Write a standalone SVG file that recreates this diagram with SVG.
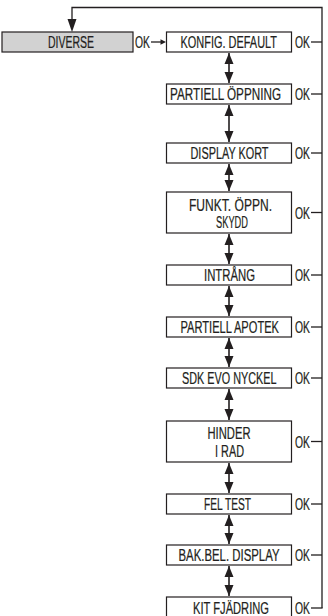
<svg xmlns="http://www.w3.org/2000/svg" width="328" height="616" viewBox="0 0 328 616">
<style>
.box{fill:#fff;stroke:#231f20;stroke-width:1.2}
.gray{fill:#d2d2d2;stroke:#231f20;stroke-width:1.2}
.t{font-family:"Liberation Sans",Arial,sans-serif;font-size:11px;fill:#231f20;stroke:#231f20;stroke-width:0.15}
.ln{stroke:#231f20;stroke-width:1.3;fill:none}
.sh{stroke:#231f20;stroke-width:1.6;fill:none}
.ah{fill:#231f20}
</style>
<g id="connectors">
<polyline class="ln" points="322,608 322,7.5 72,7.5 72,20"/>
<path class="ah" d="M72 32 L67.5 19 L76.5 19 Z"/>
<line class="ln" x1="151" y1="42" x2="162" y2="42"/>
<path class="ah" d="M166 42 L160.5 39.3 L160.5 44.7 Z"/>
<line class="ln" x1="311" y1="42" x2="322" y2="42"/>
<line class="ln" x1="311" y1="94" x2="322" y2="94"/>
<line class="ln" x1="311" y1="153" x2="322" y2="153"/>
<line class="ln" x1="311" y1="212.5" x2="322" y2="212.5"/>
<line class="ln" x1="311" y1="275" x2="322" y2="275"/>
<line class="ln" x1="311" y1="327" x2="322" y2="327"/>
<line class="ln" x1="311" y1="378" x2="322" y2="378"/>
<line class="ln" x1="311" y1="441.5" x2="322" y2="441.5"/>
<line class="ln" x1="311" y1="504" x2="322" y2="504"/>
<line class="ln" x1="311" y1="555" x2="322" y2="555"/>
<line class="ln" x1="311" y1="608" x2="322.6" y2="608"/>
<line class="sh" x1="229" y1="53" x2="229" y2="83"/>
<path class="ah" d="M229 53 L224.5 64 L233.5 64 Z"/><path class="ah" d="M229 83 L224.5 72 L233.5 72 Z"/>
<line class="sh" x1="229" y1="105" x2="229" y2="142"/>
<path class="ah" d="M229 105 L224.5 116 L233.5 116 Z"/><path class="ah" d="M229 142 L224.5 131 L233.5 131 Z"/>
<line class="sh" x1="229" y1="164" x2="229" y2="191"/>
<path class="ah" d="M229 164 L224.5 175 L233.5 175 Z"/><path class="ah" d="M229 191 L224.5 180 L233.5 180 Z"/>
<line class="sh" x1="229" y1="234" x2="229" y2="264"/>
<path class="ah" d="M229 234 L224.5 245 L233.5 245 Z"/><path class="ah" d="M229 264 L224.5 253 L233.5 253 Z"/>
<line class="sh" x1="229" y1="286" x2="229" y2="316"/>
<path class="ah" d="M229 286 L224.5 297 L233.5 297 Z"/><path class="ah" d="M229 316 L224.5 305 L233.5 305 Z"/>
<line class="sh" x1="229" y1="338" x2="229" y2="367"/>
<path class="ah" d="M229 338 L224.5 349 L233.5 349 Z"/><path class="ah" d="M229 367 L224.5 356 L233.5 356 Z"/>
<line class="sh" x1="229" y1="389" x2="229" y2="420"/>
<path class="ah" d="M229 389 L224.5 400 L233.5 400 Z"/><path class="ah" d="M229 420 L224.5 409 L233.5 409 Z"/>
<line class="sh" x1="229" y1="463" x2="229" y2="493"/>
<path class="ah" d="M229 463 L224.5 474 L233.5 474 Z"/><path class="ah" d="M229 493 L224.5 482 L233.5 482 Z"/>
<line class="sh" x1="229" y1="515" x2="229" y2="544"/>
<path class="ah" d="M229 515 L224.5 526 L233.5 526 Z"/><path class="ah" d="M229 544 L224.5 533 L233.5 533 Z"/>
<line class="sh" x1="229" y1="566" x2="229" y2="596"/>
<path class="ah" d="M229 566 L224.5 577 L233.5 577 Z"/><path class="ah" d="M229 596 L224.5 585 L233.5 585 Z"/>
</g>
<g id="diverse">
<rect class="gray" x="2" y="32" width="131" height="20"/>
<text class="t" transform="translate(48,48) scale(1,1.5)" textLength="46" lengthAdjust="spacingAndGlyphs">DIVERSE</text>
<text class="t" transform="translate(135,48) scale(1,1.5)" textLength="15" lengthAdjust="spacingAndGlyphs">OK</text>
</g>
<g id="konfig">
<rect class="box" x="166.5" y="32" width="125" height="20"/>
<text class="t" transform="translate(180.5,48) scale(1,1.5)" textLength="96.5" lengthAdjust="spacingAndGlyphs">KONFIG. DEFAULT</text>
<text class="t" transform="translate(295,48) scale(1,1.5)" textLength="15" lengthAdjust="spacingAndGlyphs">OK</text>
</g>
<g id="partiell-oppning">
<rect class="box" x="166.5" y="84" width="125" height="20"/>
<text class="t" transform="translate(170,100) scale(1,1.5)" textLength="111" lengthAdjust="spacingAndGlyphs">PARTIELL ÖPPNING</text>
<text class="t" transform="translate(295,100) scale(1,1.5)" textLength="15" lengthAdjust="spacingAndGlyphs">OK</text>
</g>
<g id="display-kort">
<rect class="box" x="166.5" y="143" width="125" height="20"/>
<text class="t" transform="translate(190.5,159) scale(1,1.5)" textLength="78" lengthAdjust="spacingAndGlyphs">DISPLAY KORT</text>
<text class="t" transform="translate(295,159) scale(1,1.5)" textLength="15" lengthAdjust="spacingAndGlyphs">OK</text>
</g>
<g id="funkt">
<rect class="box" x="166.5" y="192" width="125" height="41"/>
<text class="t" transform="translate(189,210.5) scale(1,1.5)" textLength="83" lengthAdjust="spacingAndGlyphs">FUNKT. ÖPPN.</text>
<text class="t" transform="translate(216,228) scale(1,1.5)" textLength="32" lengthAdjust="spacingAndGlyphs">SKYDD</text>
<text class="t" transform="translate(295,218.5) scale(1,1.5)" textLength="15" lengthAdjust="spacingAndGlyphs">OK</text>
</g>
<g id="intrang">
<rect class="box" x="166.5" y="265" width="125" height="20"/>
<text class="t" transform="translate(204,281) scale(1,1.5)" textLength="51" lengthAdjust="spacingAndGlyphs">INTRÅNG</text>
<text class="t" transform="translate(295,281) scale(1,1.5)" textLength="15" lengthAdjust="spacingAndGlyphs">OK</text>
</g>
<g id="partiell-apotek">
<rect class="box" x="166.5" y="317" width="125" height="20"/>
<text class="t" transform="translate(180.5,333) scale(1,1.5)" textLength="98.5" lengthAdjust="spacingAndGlyphs">PARTIELL APOTEK</text>
<text class="t" transform="translate(295,333) scale(1,1.5)" textLength="15" lengthAdjust="spacingAndGlyphs">OK</text>
</g>
<g id="sdk-evo">
<rect class="box" x="166.5" y="368" width="125" height="20"/>
<text class="t" transform="translate(182,384) scale(1,1.5)" textLength="94.5" lengthAdjust="spacingAndGlyphs">SDK EVO NYCKEL</text>
<text class="t" transform="translate(295,384) scale(1,1.5)" textLength="15" lengthAdjust="spacingAndGlyphs">OK</text>
</g>
<g id="hinder">
<rect class="box" x="166.5" y="421" width="125" height="41"/>
<text class="t" transform="translate(207.5,439) scale(1,1.5)" textLength="43" lengthAdjust="spacingAndGlyphs">HINDER</text>
<text class="t" transform="translate(215,457) scale(1,1.5)" textLength="29" lengthAdjust="spacingAndGlyphs">I RAD</text>
<text class="t" transform="translate(295,447.5) scale(1,1.5)" textLength="15" lengthAdjust="spacingAndGlyphs">OK</text>
</g>
<g id="fel-test">
<rect class="box" x="166.5" y="494" width="125" height="20"/>
<text class="t" transform="translate(204,510) scale(1,1.5)" textLength="47" lengthAdjust="spacingAndGlyphs">FEL TEST</text>
<text class="t" transform="translate(295,510) scale(1,1.5)" textLength="15" lengthAdjust="spacingAndGlyphs">OK</text>
</g>
<g id="bak-bel">
<rect class="box" x="166.5" y="545" width="125" height="20"/>
<text class="t" transform="translate(178.5,561) scale(1,1.5)" textLength="101" lengthAdjust="spacingAndGlyphs">BAK.BEL. DISPLAY</text>
<text class="t" transform="translate(295,561) scale(1,1.5)" textLength="15" lengthAdjust="spacingAndGlyphs">OK</text>
</g>
<g id="kit">
<rect class="box" x="166.5" y="597" width="125" height="21"/>
<text class="t" transform="translate(193,614) scale(1,1.5)" textLength="76" lengthAdjust="spacingAndGlyphs">KIT FJÄDRING</text>
<text class="t" transform="translate(295,614) scale(1,1.5)" textLength="15" lengthAdjust="spacingAndGlyphs">OK</text>
</g>
</svg>
